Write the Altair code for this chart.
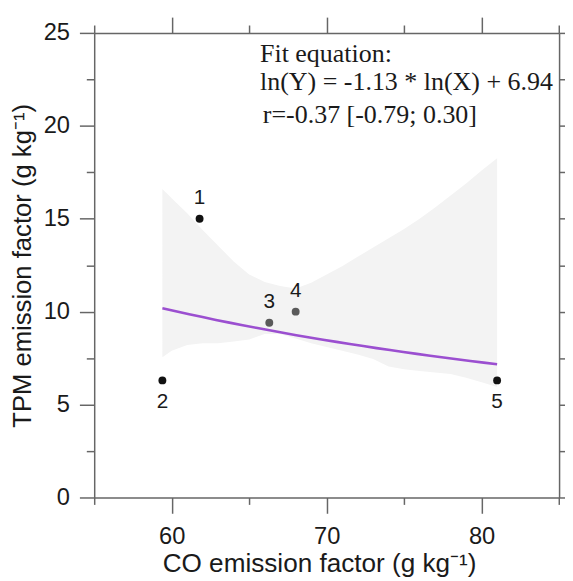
import altair as alt
import pandas as pd

# ---------------- data ----------------
point_id = ["1", "2", "3", "4", "5"]
co_ef = [61.8, 59.4, 66.3, 68.0, 81.0]
tpm_ef = [15.0, 6.3, 9.4, 10.0, 6.3]
point_color = ["#111111", "#111111", "#5a5a5a", "#5a5a5a", "#111111"]
label_side = ["above", "below", "above", "above", "below"]

band_x = [59.4, 60.0, 61.0, 62.0, 63.0, 64.0, 65.0, 66.0, 67.0, 68.0, 69.0, 70.0,
          71.0, 72.0, 73.0, 74.0, 75.0, 76.0, 77.0, 78.0, 79.0, 80.0, 81.0]
band_upper = [16.6, 16.1, 15.3, 14.4, 13.55, 12.7, 12.0, 11.6, 11.38, 11.25, 11.55, 12.0,
              12.45, 12.95, 13.45, 13.95, 14.45, 15.0, 15.6, 16.25, 16.9, 17.6, 18.25]
band_lower = [7.55, 7.9, 8.2, 8.3, 8.3, 8.4, 8.5, 8.8, 8.8, 8.55, 8.3, 8.1,
              7.9, 7.7, 7.45, 7.05, 6.9, 6.8, 6.72, 6.65, 6.45, 6.2, 5.95]

fit_lines = ["Fit equation:", "ln(Y) = -1.13 * ln(X) + 6.94", "r=-0.37 [-0.79; 0.30]"]
fit_x = [65.7, 65.7, 65.88]
fit_y = [23.45, 21.93, 20.15]

x_major = [60, 70, 80]
x_minor = [55, 65, 75, 85]
y_major = [0, 5, 10, 15, 20, 25]
y_minor = [2.5, 7.5, 12.5, 17.5, 22.5]

x_title = "CO emission factor (g kg\u207b\u00b9)"
y_title = "TPM emission factor (g kg\u207b\u00b9)"

pts = pd.DataFrame({"id": point_id, "co": co_ef, "tpm": tpm_ef,
                    "col": point_color, "side": label_side})
band_df = pd.DataFrame({"co": band_x, "upper": band_upper, "lower": band_lower})
fit_df = pd.DataFrame({"txt": fit_lines, "co": fit_x, "tpm": fit_y})

# ---------------- styling ----------------
AX = "#666666"
TXT = "#1a1a1a"
SANS = "Liberation Sans"
SERIF = "Liberation Serif"

xs = alt.Scale(domain=[55, 85], nice=False, zero=False)
ys = alt.Scale(domain=[0, 25], nice=False, zero=False)


def ax(orient, values, tick, domain, **kw):
    return alt.Axis(orient=orient, values=values, tickSize=tick, domain=domain,
                    domainColor=AX, domainWidth=1.5, tickColor=AX, tickWidth=1.5,
                    grid=False, **kw)


def blank(orient, values, tick, domain):
    return ax(orient, values, tick, domain, labels=False, title=None)


x_main = ax("bottom", x_major, 16, True, labels=True, labelFont=SANS, labelFontSize=24,
            labelColor=TXT, labelPadding=12, labelFlush=False,
            title=x_title, titleFont=SANS, titleFontSize=26.5, titleFontWeight="normal",
            titleColor=TXT, titleX=228, titleY=75, titleBaseline="alphabetic",
            titleAlign="center")
y_main = ax("left", y_major, 15, True, labels=True, labelFont=SANS, labelFontSize=24,
            labelColor=TXT, labelPadding=10, labelFlush=False,
            title=y_title, titleFont=SANS, titleFontSize=26, titleFontWeight="normal",
            titleColor=TXT, titleX=-64.5, titleY=235.7, titleBaseline="alphabetic",
            titleAlign="center", titleAngle=270)

band = alt.Chart(band_df).mark_area(color="#f3f3f3").encode(
    x=alt.X("co:Q", scale=xs, axis=x_main),
    y=alt.Y("upper:Q", scale=ys, axis=y_main),
    y2="lower:Q",
)

fit_line = alt.Chart(pts).transform_regression("co", "tpm", method="pow").mark_line(
    color="#9b4fd0", strokeWidth=2.6
).encode(
    x=alt.X("co:Q", scale=xs, axis=blank("bottom", x_minor, 7, False)),
    y=alt.Y("tpm:Q", scale=ys, axis=blank("left", y_minor, 8, False)),
)

points = alt.Chart(pts).mark_circle(size=64, opacity=1).encode(
    x=alt.X("co:Q", scale=xs, axis=blank("top", x_major, 16, True)),
    y=alt.Y("tpm:Q", scale=ys, axis=blank("right", y_major, 15, True)),
    color=alt.Color("col:N", scale=None),
)

labels_above = alt.Chart(pts).transform_filter(alt.datum.side == "above").mark_text(
    dy=-21, font=SANS, fontSize=21, color=TXT, baseline="middle", align="center"
).encode(
    x=alt.X("co:Q", scale=xs, axis=blank("top", x_minor, 8, False)),
    y=alt.Y("tpm:Q", scale=ys, axis=blank("right", y_minor, 8, False)),
    text="id:N",
)

labels_below = alt.Chart(pts).transform_filter(alt.datum.side == "below").mark_text(
    dy=22, font=SANS, fontSize=21, color=TXT, baseline="middle", align="center"
).encode(
    x=alt.X("co:Q", scale=xs, axis=None),
    y=alt.Y("tpm:Q", scale=ys, axis=None),
    text="id:N",
)

fit_text = alt.Chart(fit_df).mark_text(
    font=SERIF, fontSize=26.3, color=TXT, align="left", baseline="alphabetic"
).encode(
    x=alt.X("co:Q", scale=xs, axis=None),
    y=alt.Y("tpm:Q", scale=ys, axis=None),
    text="txt:N",
)

chart = alt.layer(
    band, fit_line, points, labels_above, labels_below, fit_text
).resolve_axis(
    x="independent", y="independent"
).properties(
    width=471.3,
    height=471,
    padding={"left": 87.4, "top": 21.3, "right": 6, "bottom": 80},
    autosize=alt.AutoSizeParams(type="none"),
).configure_view(stroke=None)

chart.save("out.html", embed_options={"renderer": "svg", "actions": False})
